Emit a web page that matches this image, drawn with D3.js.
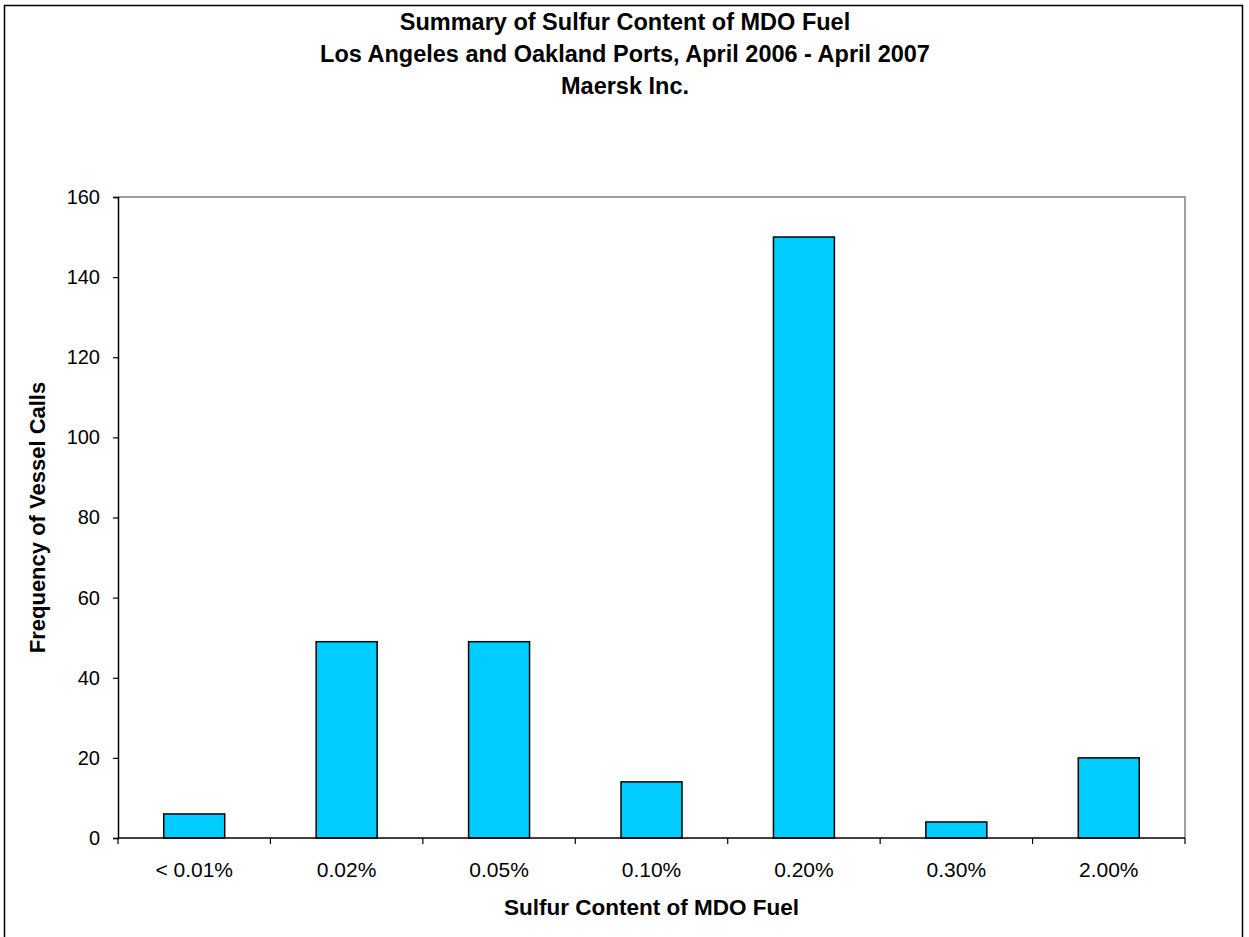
<!DOCTYPE html>
<html>
<head>
<meta charset="utf-8">
<script src="https://cdn.jsdelivr.net/npm/d3@7"></script>
<style>
  html, body { margin: 0; padding: 0; background: #fff; }
  svg { display: block; font-family: "Liberation Sans", Arial, sans-serif; }
</style>
</head>
<body>
<svg id="chart" width="1249" height="937"></svg>
<script>
const categories = ["< 0.01%", "0.02%", "0.05%", "0.10%", "0.20%", "0.30%", "2.00%"];
const values = [6, 49, 49, 14, 150, 4, 20];
const yTicks = [0, 20, 40, 60, 80, 100, 120, 140, 160];
const titleLines = [
  "Summary of Sulfur Content of MDO Fuel",
  "Los Angeles and Oakland Ports, April 2006 - April 2007",
  "Maersk Inc."
];
const xTitle = "Sulfur Content of MDO Fuel";
const yTitle = "Frequency of Vessel Calls";

const svg = d3.select("#chart");
const m = { left: 118, right: 1185, top: 197, bottom: 838 };

// outer chart border
svg.append("rect")
  .attr("x", 4.5).attr("y", 5.5)
  .attr("width", 1238).attr("height", 960)
  .attr("fill", "none").attr("stroke", "#000").attr("stroke-width", 1.5);

const x = d3.scaleBand().domain(categories).range([m.left, m.right]).paddingInner(0).paddingOuter(0);
const y = d3.scaleLinear().domain([0, 160]).range([m.bottom, m.top]);

// plot area border (top & right) grey
svg.append("path")
  .attr("d", `M${m.left},${m.top}H${m.right}V${m.bottom}`)
  .attr("fill", "none").attr("stroke", "#808080").attr("stroke-width", 1.5);

// bars
const bw = x.bandwidth() * 0.4;
svg.append("g").selectAll("rect").data(values).join("rect")
  .attr("x", (d, i) => x(categories[i]) + (x.bandwidth() - bw) / 2)
  .attr("y", d => y(d))
  .attr("width", bw)
  .attr("height", d => y(0) - y(d))
  .attr("fill", "#00CCFF")
  .attr("stroke", "#000").attr("stroke-width", 1.5);

// y axis
const yAxis = d3.axisLeft(y).tickValues(yTicks).tickSize(5).tickPadding(13).tickFormat(d3.format("d"));
const gy = svg.append("g").attr("transform", `translate(${m.left},0)`).call(yAxis);
gy.select(".domain").attr("stroke", "#000").attr("stroke-width", 1.5);
gy.selectAll(".tick line").attr("stroke", "#000").attr("stroke-width", 1.2);
gy.selectAll(".tick text").attr("font-size", "20px").attr("fill", "#000")
  .style("font-family", "'Liberation Sans', Arial, sans-serif");

// x axis: ticks at band boundaries
const gx = svg.append("g").attr("transform", `translate(0,${m.bottom})`);
gx.append("line").attr("x1", m.left).attr("x2", m.right).attr("stroke", "#000").attr("stroke-width", 1.5);
const boundaries = categories.map(c => x(c)).concat([x(categories[categories.length - 1]) + x.bandwidth()]);
gx.selectAll("line.tk").data(boundaries).join("line").attr("class", "tk")
  .attr("x1", d => d).attr("x2", d => d).attr("y1", 0).attr("y2", 6)
  .attr("stroke", "#000").attr("stroke-width", 1.2);
gx.selectAll("text").data(categories).join("text")
  .attr("x", d => x(d) + x.bandwidth() / 2)
  .attr("y", 39)
  .attr("text-anchor", "middle")
  .attr("font-size", "21px")
  .text(d => d);

// titles
svg.append("g").selectAll("text").data(titleLines).join("text")
  .attr("x", 625).attr("y", (d, i) => 30 + i * 32)
  .attr("text-anchor", "middle")
  .attr("font-size", "23.5px").attr("font-weight", "bold")
  .text(d => d);

svg.append("text")
  .attr("x", (m.left + m.right) / 2).attr("y", 915)
  .attr("text-anchor", "middle")
  .attr("font-size", "22.5px").attr("font-weight", "bold")
  .text(xTitle);

svg.append("text")
  .attr("transform", `translate(45,${(m.top + m.bottom) / 2}) rotate(-90)`)
  .attr("text-anchor", "middle")
  .attr("font-size", "22px").attr("font-weight", "bold")
  .text(yTitle);
</script>
</body>
</html>
